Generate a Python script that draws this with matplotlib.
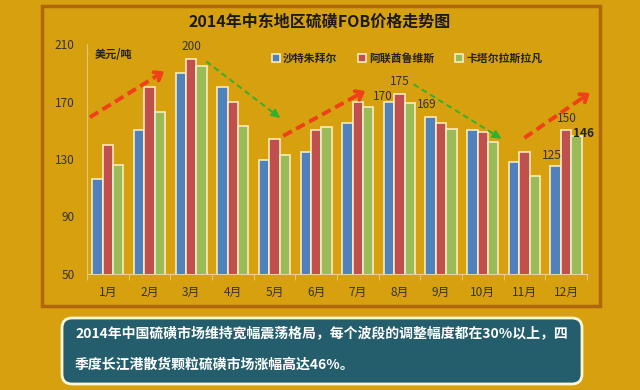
import matplotlib
matplotlib.use('Agg')
import matplotlib.pyplot as plt
from matplotlib.patches import Rectangle, FancyBboxPatch
from matplotlib.transforms import Affine2D
import numpy as np

plt.rcParams['font.family'] = ['Noto Sans CJK SC', 'DejaVu Sans']

# 数据
months = ['1月', '2月', '3月', '4月', '5月', '6月', '7月', '8月', '9月', '10月', '11月', '12月']
saudi = [116, 150, 190, 180, 129, 135, 155, 170, 159, 150, 128, 125]
uae = [140, 180, 200, 170, 144, 150, 170, 175, 155, 149, 135, 150]
qatar = [126, 163, 195, 153, 133, 152, 166, 169, 151, 142, 118, 146]
series_names = ['沙特朱拜尔', '阿联酋鲁维斯', '卡塔尔拉斯拉凡']

title = '2014年中东地区硫磺FOB价格走势图'
unit = '美元/吨'
note1 = '2014年中国硫磺市场维持宽幅震荡格局，每个波段的调整幅度都在30%以上，四'
note2 = '季度长江港散货颗粒硫磺市场涨幅高达46%。'

bg = '#D6A00E'
colors = ['#4F81BD', '#C0504D', '#9BBB59']
edge = '#FFF3C8'
txt = '#333333'

fig = plt.figure(figsize=(6.4, 3.9), dpi=100, facecolor=bg)
px = Affine2D().scale(1 / 640, 1 / 390) + fig.transFigure

# 外框
fig.patches.append(Rectangle((42, 84), 558, 300, transform=px, fill=False,
                             ec='#B0660A', lw=2.5))

ax = fig.add_axes([0.136, 0.2987, 0.781, 0.588])
ax.set_facecolor('none')

x = np.arange(len(months))
w = 0.25
bars = []
for k, vals in enumerate([saudi, uae, qatar]):
    b = ax.bar(x + (k - 1) * w, vals, width=w, color=colors[k], edgecolor=edge,
               linewidth=1.1, label=series_names[k], zorder=3)
    bars.append(b)

ax.set_xlim(-0.5, 11.5)
ax.set_ylim(50, 210)
ax.set_yticks([50, 90, 130, 170, 210])
ax.set_xticks(x)
ax.set_xticklabels(months)
ax.set_xticks(np.arange(-0.5, 12, 1), minor=True)
ax.tick_params(axis='x', which='major', length=0, pad=9, labelsize=8.5, colors=txt)
ax.tick_params(axis='x', which='minor', length=4, color='#E6CF8A')
ax.tick_params(axis='y', length=0, pad=9, labelsize=8.5, colors=txt)
for s in ['top', 'right']:
    ax.spines[s].set_visible(False)
ax.spines['left'].set_color('#E2C474')
ax.spines['left'].set_linewidth(0.8)
ax.spines['bottom'].set_color('#E6D49A')
ax.spines['bottom'].set_linewidth(0.8)

# 数值标签
labels = [(2, 1, 0, 12, 'normal'), (7, 1, 0, 13, 'normal'), (7, 0, -6, 5, 'normal'),
          (7, 2, 17, -2, 'normal'), (11, 1, 1, 12, 'normal'), (11, 0, -4, 11, 'normal'),
          (11, 2, 7, 2, 'bold')]
data = [saudi, uae, qatar]
for i, k, dx, dy, fw in labels:
    v = data[k][i]
    ax.annotate(str(v), (i + (k - 1) * w, v), xytext=(dx, dy), textcoords='offset pixels',
                ha='center', va='center', fontsize=8.5, color='#222222' if fw == 'bold' else txt,
                fontweight=fw, zorder=5)

# 趋势箭头
trends = [(-0.43, 159, 1.35, 191, 'red'), (2.36, 198, 4.14, 158.5, 'green'),
          (4.21, 146, 6.18, 177.4, 'red'), (7.34, 182, 9.45, 144, 'green'),
          (10.0, 144.6, 11.57, 176, 'red')]
for x0, y0, x1, y1, c in trends:
    if c == 'red':
        col, lw, ls = '#F0401A', 2.8, (0, (2.5, 1.3))
        head = '->,head_length=0.45,head_width=0.35'
    else:
        col, lw, ls = '#33B030', 1.4, (0, (3, 2))
        head = '-|>,head_length=0.5,head_width=0.25'
    xm, ym = x0 + (x1 - x0) * 0.88, y0 + (y1 - y0) * 0.88
    ax.plot([x0, xm], [y0, ym], color=col, lw=lw, linestyle=ls, clip_on=False, zorder=6,
            solid_capstyle='butt', dash_capstyle='butt')
    ax.annotate('', xy=(x1, y1), xytext=(xm, ym), annotation_clip=False,
                arrowprops=dict(arrowstyle=head, color=col, lw=lw, shrinkA=0, shrinkB=0),
                zorder=6)

# 图例
leg = fig.legend(handles=bars, loc='upper left', bbox_to_anchor=(262 / 640, 1 - 43 / 390),
                 ncol=3, frameon=False, handlelength=0.75, handleheight=0.75,
                 handletextpad=0.3, columnspacing=1.9, fontsize=7.8)
for t in leg.get_texts():
    t.set_color('#222222')
    t.set_fontweight('bold')

fig.text(320 / 640, 1 - 22 / 390, title, ha='center', va='center', fontsize=11.5,
         fontweight='bold', color='#1A1A1A')
fig.text(95 / 640, 1 - 54 / 390, unit, ha='left', va='center', fontsize=8,
         fontweight='bold', color='#222222')

# 说明文字框
fig.patches.append(FancyBboxPatch((62, 6), 520, 66, boxstyle='round,pad=0,rounding_size=10',
                                  transform=px, fc='#245E6C', ec='#FFF6D8', lw=2))
fig.text(75 / 640, 1 - 333 / 390, note1, ha='left', va='center', fontsize=10,
         fontweight='bold', color='white')
fig.text(75 / 640, 1 - 364 / 390, note2, ha='left', va='center', fontsize=10,
         fontweight='bold', color='white')

fig.savefig('out.png', dpi=100, facecolor=bg)
